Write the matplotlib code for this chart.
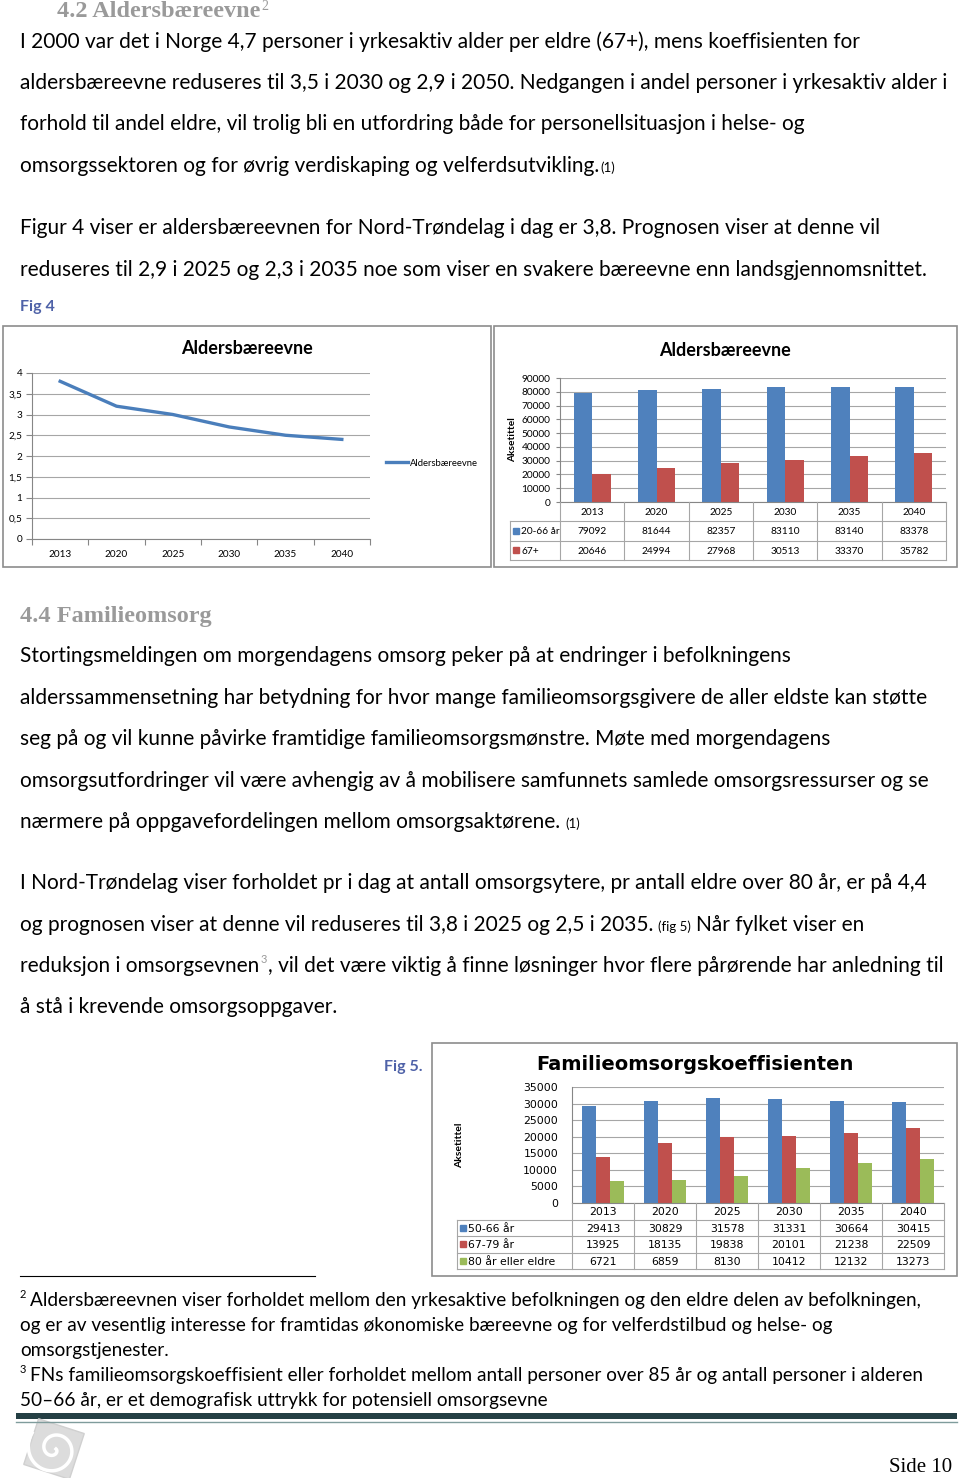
import numpy as np
import matplotlib.pyplot as plt
from matplotlib.patches import Rectangle, Polygon
from matplotlib.lines import Line2D

###############################################################################
# Data
###############################################################################
years = ['2013', '2020', '2025', '2030', '2035', '2040']

# Fig 4 - aldersbæreevne (line)
baereevne = [3.8, 3.2, 3.0, 2.7, 2.5, 2.4]

# Fig 4 - befolkning (bars + table)
yrkesaktiv = [79092, 81644, 82357, 83110, 83140, 83378]
eldre_67 = [20646, 24994, 27968, 30513, 33370, 35782]
labels_fig4 = ['20-66 år', '67+']

# Fig 5 - familieomsorgskoeffisienten
alder_50_66 = [29413, 30829, 31578, 31331, 30664, 30415]
alder_67_79 = [13925, 18135, 19838, 20101, 21238, 22509]
alder_80 = [6721, 6859, 8130, 10412, 12132, 13273]
labels_fig5 = ['50-66 år', '67-79 år', '80 år eller eldre']

BLUE, RED, GREEN = '#4F81BD', '#C0504D', '#9BBB59'
BODY = ['Lato', 'DejaVu Sans']
SERIF = ['Liberation Serif', 'DejaVu Serif']
GRID = '#A6A6A6'
FS = 15          # body text
FS_NOTE = 13.7   # footnotes

###############################################################################
# Page
###############################################################################
W, H = 960, 1478
fig = plt.figure(figsize=(W / 100, H / 100), dpi=100)
renderer = fig.canvas.get_renderer()


def fx(x):
    return x / W


def fy(y):
    return 1 - y / H


def box(x0, y0, x1, y1):
    return [fx(x0), fy(y1), (x1 - x0) / W, (y1 - y0) / H]


def line(y, parts, x=20, size=FS):
    # parts: plain text, or dict with text and optional size/color/rise/gap/family/weight
    for p in parts:
        if isinstance(p, str):
            p = {'text': p}
        x += p.get('gap', 0)
        t = fig.text(fx(x), fy(y - p.get('rise', 0)), p['text'],
                     fontsize=p.get('size', size), color=p.get('color', 'black'),
                     family=p.get('family', BODY), weight=p.get('weight', 'normal'),
                     va='baseline', ha='left')
        x += t.get_window_extent(renderer).width


# Section 4.2
line(17, [{'text': '4.2 Aldersbæreevne', 'size': 17.5, 'color': '#9A9A9A',
           'family': SERIF, 'weight': 'bold'},
          {'text': '2', 'size': 10, 'color': '#9A9A9A', 'rise': 7, 'gap': 1,
           'family': SERIF}], x=57)

para1 = ['I 2000 var det i Norge 4,7 personer i yrkesaktiv alder per eldre (67+), mens koeffisienten for',
         'aldersbæreevne reduseres til 3,5 i 2030 og 2,9 i 2050. Nedgangen i andel personer i yrkesaktiv alder i',
         'forhold til andel eldre, vil trolig bli en utfordring både for personellsituasjon i helse- og']
for i, s in enumerate(para1):
    line(47.5 + i * 41.5, [s])
line(172.5, ['omsorgssektoren og for øvrig verdiskaping og velferdsutvikling.',
             {'text': '(1)', 'size': 9.5, 'gap': 1}])
line(234.5, ['Figur 4 viser er aldersbæreevnen for Nord-Trøndelag i dag er 3,8. Prognosen viser at denne vil'])
line(275.5, ['reduseres til 2,9 i 2025 og 2,3 i 2035 noe som viser en svakere bæreevne enn landsgjennomsnittet.'])
fig.text(fx(20), fy(307), 'Fig 4', fontsize=11.5, weight='bold', color='#4F62A8',
         family=BODY, va='center')

# Section 4.4
line(622, [{'text': '4.4 Familieomsorg', 'size': 17.5, 'color': '#9A9A9A',
            'family': SERIF, 'weight': 'bold'}])
para2 = ['Stortingsmeldingen om morgendagens omsorg peker på at endringer i befolkningens',
         'alderssammensetning har betydning for hvor mange familieomsorgsgivere de aller eldste kan støtte',
         'seg på og vil kunne påvirke framtidige familieomsorgsmønstre. Møte med morgendagens',
         'omsorgsutfordringer vil være avhengig av å mobilisere samfunnets samlede omsorgsressurser og se']
for i, s in enumerate(para2):
    line(662 + i * 41.5, [s])
line(828, ['nærmere på oppgavefordelingen mellom omsorgsaktørene.',
           {'text': '(1)', 'size': 9.5, 'gap': 5}])
line(889, ['I Nord-Trøndelag viser forholdet pr i dag at antall omsorgsytere, pr antall eldre over 80 år, er på 4,4'])
line(931, ['og prognosen viser at denne vil reduseres til 3,8 i 2025 og 2,5 i 2035.',
           {'text': '(fig 5)', 'size': 9.5, 'gap': 5},
           {'text': 'Når fylket viser en', 'gap': 5}])
line(972, ['reduksjon i omsorgsevnen',
           {'text': '3', 'size': 8, 'color': '#9A9A9A', 'rise': 9, 'gap': 1},
           {'text': ', vil det være viktig å finne løsninger hvor flere pårørende har anledning til', 'gap': 1}])
line(1013, ['å stå i krevende omsorgsoppgaver.'])


###############################################################################
# Helpers for the Excel style charts
###############################################################################
def frame(x0, y0, x1, y1):
    fig.patches.append(Rectangle((fx(x0), fy(y1)), (x1 - x0) / W, (y1 - y0) / H,
                                 transform=fig.transFigure, fill=False,
                                 ec='#8C8C8C', lw=1.2))


def style_axes(ax, ymax, step, fs, family, ticklen=4, pad=3):
    n = len(years)
    ax.set_xlim(-0.5, n - 0.5)
    ax.set_ylim(0, ymax)
    yt = np.arange(0, ymax + 1, step)
    ax.set_yticks(yt, labels=[f'{v:g}'.replace('.', ',') for v in yt],
                  fontsize=fs, family=family)
    ax.tick_params(axis='y', length=ticklen, color='#868686', pad=pad)
    ax.grid(axis='y', color=GRID, lw=0.8)
    ax.set_axisbelow(True)
    for s in ['top', 'right']:
        ax.spines[s].set_visible(False)
    for s in ['left', 'bottom']:
        ax.spines[s].set_color('#868686')


def data_table(x0, y0, x1, y1, plot_left, rows, labels, colors, fs, family):
    n = len(years)
    catw = (x1 - plot_left) / n
    left = -0.5 - (plot_left - x0) / catw
    tax = fig.add_axes(box(x0, y0, x1, y1))
    tax.set_xlim(left, n - 0.5)
    tax.set_ylim(len(rows) + 1, 0)
    tax.axis('off')
    kw = dict(color=GRID, lw=0.8, clip_on=False)
    for k in range(n + 1):
        tax.plot([k - 0.5, k - 0.5], [0, len(rows) + 1], **kw)
    for r in range(1, len(rows) + 2):
        tax.plot([left, n - 0.5], [r, r], **kw)
    tax.plot([left, left], [1, len(rows) + 1], **kw)
    for k, yr in enumerate(years):
        tax.text(k, 0.55, yr, ha='center', va='center', fontsize=fs, family=family)
    for r, (vals, lab, col) in enumerate(zip(rows, labels, colors)):
        tax.plot(left + 6 / catw, r + 1.5, 's', color=col, ms=4.5, clip_on=False)
        tax.text(left + 11 / catw, r + 1.55, lab, ha='left', va='center',
                 fontsize=fs, family=family)
        for k, v in enumerate(vals):
            tax.text(k, r + 1.55, str(v), ha='center', va='center',
                     fontsize=fs, family=family)


xs = np.arange(len(years))

###############################################################################
# Fig 4 left: line chart
###############################################################################
frame(3, 326, 491, 567)
ax1 = fig.add_axes(box(32, 373, 370, 539))
ax1.plot(xs, baereevne, color='#4A7EBB', lw=2.4, label='Aldersbæreevne')
style_axes(ax1, 4, 0.5, 7.2, BODY)
ax1.set_ylim(0, 4)
ax1.set_xticks(np.arange(-0.5, len(years)), labels=[])
ax1.set_xticks(xs, labels=years, minor=True, fontsize=7.2, family=BODY)
ax1.tick_params(axis='x', which='major', length=4, color='#868686')
ax1.tick_params(axis='x', which='minor', length=0, pad=8)
fig.text(fx(247), fy(348), 'Aldersbæreevne', ha='center', va='center',
         fontsize=13, weight='bold', family=BODY)
fig.legend(handles=ax1.get_lines(), loc='center left', bbox_to_anchor=(fx(386), fy(463)),
           frameon=False, handlelength=2.3, handletextpad=0.2,
           borderpad=0, borderaxespad=0, prop={'family': BODY, 'size': 6.8})

###############################################################################
# Fig 4 right: bars with data table
###############################################################################
frame(494, 326, 957, 567)
ax2 = fig.add_axes(box(560, 378, 946, 502))
bw = 1 / 3.5
ax2.bar(xs - bw / 2, yrkesaktiv, bw, color=BLUE)
ax2.bar(xs + bw / 2, eldre_67, bw, color=RED)
style_axes(ax2, 90000, 10000, 7.3, BODY, ticklen=3, pad=4)
ax2.set_xticks([])
fig.text(fx(725), fy(350), 'Aldersbæreevne', ha='center', va='center',
         fontsize=13, weight='bold', family=BODY)
fig.text(fx(513), fy(440), 'Aksetittel', rotation=90, ha='center', va='center',
         fontsize=7.3, weight='bold', family=BODY)
data_table(510, 502, 946, 560, 560, [yrkesaktiv, eldre_67], labels_fig4,
           [BLUE, RED], 7.3, BODY)

###############################################################################
# Fig 5: bars with data table
###############################################################################
frame(432, 1043, 957, 1276)
fig.text(fx(384), fy(1067), 'Fig 5.', fontsize=11.5, weight='bold', color='#4F62A8',
         family=BODY, va='center')
ax3 = fig.add_axes(box(572, 1087, 944, 1203))
bw = 1 / 4.5
ax3.bar(xs - bw, alder_50_66, bw, color=BLUE)
ax3.bar(xs, alder_67_79, bw, color=RED)
ax3.bar(xs + bw, alder_80, bw, color=GREEN)
style_axes(ax3, 35000, 5000, 7.8, 'DejaVu Sans', ticklen=0, pad=10)
ax3.set_xticks([])
fig.text(fx(695), fy(1064), 'Familieomsorgskoeffisienten', ha='center', va='center',
         fontsize=14, weight='bold', family='DejaVu Sans')
fig.text(fx(460), fy(1145), 'Aksetittel', rotation=90, ha='center', va='center',
         fontsize=7.5, weight='bold', family=BODY)
data_table(457, 1203, 944, 1269, 572, [alder_50_66, alder_67_79, alder_80],
           labels_fig5, [BLUE, RED, GREEN], 7.8, 'DejaVu Sans')

###############################################################################
# Footnotes and footer
###############################################################################
fig.add_artist(Line2D([fx(20), fx(315)], [fy(1276)] * 2, color='black', lw=0.8))
line(1306, [{'text': '2', 'size': 8, 'rise': 8},
            {'text': 'Aldersbæreevnen viser forholdet mellom den yrkesaktive befolkningen og den eldre delen av befolkningen,', 'gap': 4}],
     size=FS_NOTE)
line(1331, ['og er av vesentlig interesse for framtidas økonomiske bæreevne og for velferdstilbud og helse- og'], size=FS_NOTE)
line(1356, ['omsorgstjenester.'], size=FS_NOTE)
line(1381, [{'text': '3', 'size': 8, 'rise': 8},
            {'text': 'FNs familieomsorgskoeffisient eller forholdet mellom antall personer over 85 år og antall personer i alderen', 'gap': 4}],
     size=FS_NOTE)
line(1406, ['50–66 år, er et demografisk uttrykk for potensiell omsorgsevne'], size=FS_NOTE)

fig.patches.append(Rectangle((fx(16), fy(1419)), (957 - 16) / W, 6 / H,
                             transform=fig.transFigure, color='#243F44', lw=0))
fig.add_artist(Line2D([fx(16), fx(957)], [fy(1421.5)] * 2, color='#7F9C9C', lw=1))

# logo (tilted square with a spiral)
sq = np.array([[-1, -1], [1, -1], [1, 1], [-1, 1]]) * 24
rot = np.deg2rad(18)
R = np.array([[np.cos(rot), -np.sin(rot)], [np.sin(rot), np.cos(rot)]])
sq = sq @ R.T
fig.patches.append(Polygon([(fx(54 + p[0]), fy(1449 + p[1])) for p in sq],
                           transform=fig.transFigure, closed=True,
                           fc='#DCDCDC', ec='#D0D0D0', lw=1))
th = np.linspace(0, 3.2 * np.pi, 120)
rr = 2 + 2.5 * th
fig.add_artist(Line2D(fx(54 + rr * np.cos(th)), fy(1449 + rr * np.sin(th)),
                      color='white', lw=2.5))

fig.text(fx(952), fy(1468), 'Side 10', ha='right', va='center',
         family=SERIF, fontsize=15)

fig.savefig('out.png', dpi=100)
